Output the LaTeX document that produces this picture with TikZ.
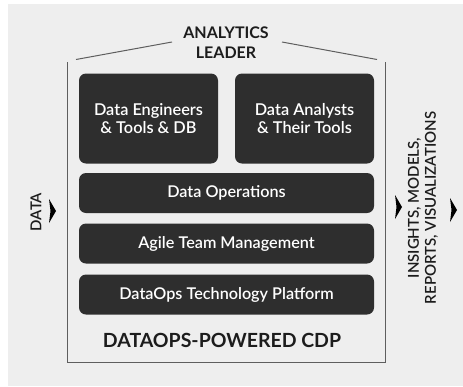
\documentclass[tikz,border=0pt]{standalone}
\usepackage{fontspec}
\setmainfont{Lato}
\newfontfamily\latosemi{Lato Semibold}
\usetikzlibrary{positioning}
\definecolor{bggray}{HTML}{EEEEEE}
\definecolor{boxdark}{HTML}{2E2E2E}
\definecolor{framegray}{HTML}{5E5E5E}
\definecolor{inkdark}{HTML}{1C1C1C}
\tikzset{
      teambox/.style={
        rounded corners=7pt,
        fill=boxdark,
        text=white,
        align=center,
        inner sep=0pt,
        minimum width=139pt,
        minimum height=90pt,
        font=\latosemi\fontsize{16.3}{18}\selectfont
      },
      layerbox/.style={
        teambox,
        minimum width=295pt,
        minimum height=40pt,
        font=\latosemi\fontsize{16.2}{18}\selectfont
      },
      sidelabel/.style={
        rotate=90,
        align=center,
        text=inkdark,
        inner sep=0pt,
        font=\latosemi\fontsize{15}{17}\selectfont
      },
      framelines/.style={draw=framegray, line width=1pt},
      pointer/.style={fill=black}
    }

\begin{document}
\begin{tikzpicture}[x=1pt,y=-1pt]
    \useasboundingbox (0,0) rectangle (463,386);
    \fill[bggray] (8,4) rectangle (463,386);
    \node[teambox] (eng) at (148.5,118.5) {Data Engineers\\\& Tools \& DB};
    \node[teambox] (ana) at (304.5,118.5) {Data Analysts\\\& Their Tools};
    \node[layerbox] (ops) at (226.5,193) {Data Operations};
    \node[layerbox] (agile) at (226.5,243.5) {Agile Team Management};
    \node[layerbox] (platform) at (226.5,294.5) {DataOps Technology Platform};
    \node[text=inkdark, align=center, inner sep=0pt, font=\bfseries\fontsize{16}{20}\selectfont] (leader) at (226,43) {ANALYTICS\\LEADER};
    \node[text=inkdark, inner sep=0pt, font=\bfseries\fontsize{19.5}{23}\selectfont] (cdp) at (222,340.5) {DATAOPS-POWERED CDP};
    \draw[framelines] (76,59.5) -- (172,42);
    \draw[framelines] (282,42) -- (377,59.5);
    \draw[framelines] (67.5,62) -- (67.5,362) -- (385,362) -- (385,62);
    \node[sidelabel] (data) at (36,212) {DATA};
    \node[sidelabel] (results) at (423,208) {INSIGHTS, MODELS,\\REPORTS, VISUALIZATIONS};
    \coordinate (datain) at (49,211);
    \coordinate (resin) at (395,207);
    \coordinate (resout) at (450,210);
    \foreach \p in {datain,resin,resout}
      \fill[pointer] (\p) ++(0,-12) -- ++(7,12) -- ++(-7,12) -- ++(1.5,-12) -- cycle;
    \end{tikzpicture}
\end{document}
